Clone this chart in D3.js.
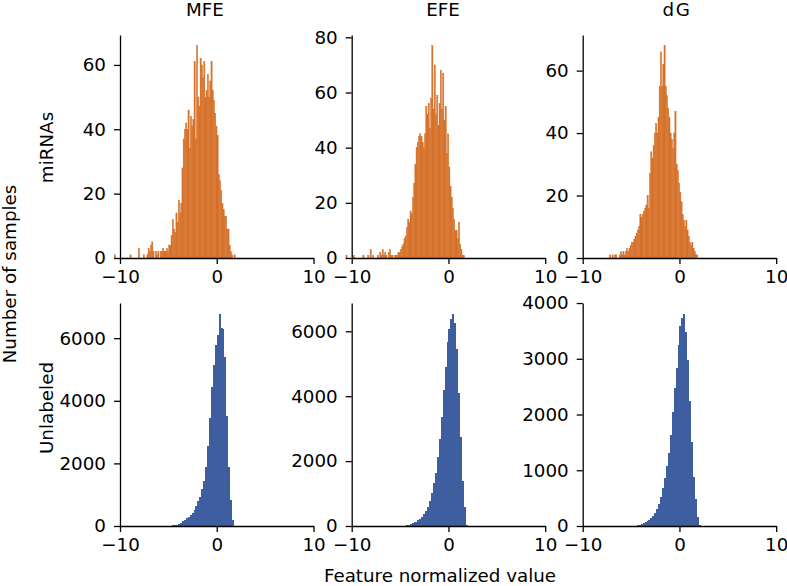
<!DOCTYPE html>
<html><head><meta charset="utf-8">
<script src="https://cdn.jsdelivr.net/npm/d3@7"></script>
<style>
html,body{margin:0;padding:0;background:#fff;}
svg text{font-family:"DejaVu Sans",sans-serif;}
</style></head><body>
<svg id="chart" width="787" height="586"></svg>
<script>
// ---------- data ----------
const columns = ["MFE", "EFE", "dG"];
const rowLabels = ["miRNAs", "Unlabeled"];
const xTicks = [-10, 0, 10];

// miRNA histograms: bins of width 0.125 starting at -10.6
const mirnaBinStart = -10.6, mirnaBinWidth = 0.125;
const mirnaMFE = [
  1,0,0,0,0,0,0,0,0,0,
  0,0,0,1,0,0,0,0,0,0,
  3,0,0,0,1,0,0,1,3,2,
  4,5,2,0,2,1,2,0,2,2,
  3,2,2,3,2,4,4,7,12,9,
  8,14,11,18,14,17,28,37,40,42,
  40,46,34,44,41,43,61,37,66,50,
  47,62,60,56,61,50,52,57,50,55,
  61,52,49,45,41,38,26,24,21,17,
  15,13,13,9,9,4,2,1,0,1
];
const mirnaEFE = [
  1,0,0,0,0,0,1,0,0,0,
  0,0,0,0,1,0,0,0,1,0,
  3,0,1,0,0,0,1,0,2,1,
  3,1,2,1,0,2,3,1,1,0,
  1,1,1,2,2,3,4,5,7,8,
  11,14,13,17,16,22,27,34,40,42,
  44,45,44,42,40,45,55,52,56,47,
  58,77,54,70,52,59,48,56,68,54,
  67,50,55,38,45,33,26,22,18,14,
  10,10,7,13,5,3,1,1,0,0
];
const mirnaDG = [
  0,0,0,0,0,0,0,0,0,0,
  0,0,0,0,0,0,0,0,0,0,
  0,0,0,0,0,0,0,1,0,1,
  0,1,1,0,0,1,2,1,2,1,
  2,3,2,3,4,5,5,6,7,8,
  9,10,14,13,14,15,16,17,20,16,
  27,34,32,36,40,43,40,45,55,66,
  55,62,68,55,52,48,45,40,38,35,
  40,47,30,28,24,21,18,14,12,10,
  12,9,7,5,4,5,3,2,1,1
];

// Unlabeled histograms: bins of width 0.2 starting at -5.0
const unlabBinStart = -5.0, unlabBinWidth = 0.2;
const unlabMFE = [10,15,20,30,45,70,110,160,185,245,300,360,430,520,650,810,940,1180,1450,1900,2550,3450,4450,5150,5780,6100,6785,6330,6300,5400,3500,1900,830,200,0];
const unlabEFE = [5,10,15,30,45,65,90,110,135,180,225,290,370,455,600,780,1010,1310,1620,2120,2690,3370,4185,4900,5680,6080,6380,6545,6250,5450,4100,2750,1400,600,20];
const unlabDG  = [3,5,8,12,18,30,50,65,85,107,145,180,230,300,390,525,690,860,1070,1310,1630,2050,2470,2830,3250,3580,3740,3810,3480,2980,2250,1500,880,480,160,10];

const mirnaYTicks = [[0,20,40,60],[0,20,40,60,80],[0,20,40,60]];
const unlabYTicks = [[0,2000,4000,6000],[0,2000,4000,6000],[0,1000,2000,3000,4000]];

const xLabel = "Feature normalized value";
const yLabel = "Number of samples";

// ---------- layout ----------
const svg = d3.select("#chart");
const colLeft = [120, 351.7, 582.7], panelW = 193.5;
const rowTop = [35, 303], panelH = 223;
const colors = ["#d6712a", "#3e5e9f"];
const seam = [0.45, 0];
const rendering = ["auto", "crispEdges"];
const titleX = [205, 443, 677];
const FS = 18.3;

const rows = [
  {series: [mirnaMFE, mirnaEFE, mirnaDG], start: mirnaBinStart, width: mirnaBinWidth, ticks: mirnaYTicks},
  {series: [unlabMFE, unlabEFE, unlabDG], start: unlabBinStart, width: unlabBinWidth, ticks: unlabYTicks}
];

rows.forEach((row, r) => {
  row.series.forEach((counts, c) => {
    const left = colLeft[c], top = rowTop[r];
    const x = d3.scaleLinear().domain([-10, 10]).range([left, left + panelW]);
    const y = d3.scaleLinear().domain([0, d3.max(counts) * 1.05]).range([top + panelH, top]);
    const g = svg.append("g").attr("shape-rendering", rendering[r]);
    const bins = counts.map((v, i) => ({x0: row.start + i * row.width, x1: row.start + (i + 1) * row.width, v}))
                       .filter(d => d.v > 0);
    g.selectAll("rect").data(bins).join("rect")
      .attr("x", d => x(d.x0))
      .attr("width", d => x(d.x1) - x(d.x0))
      .attr("y", d => y(d.v))
      .attr("height", d => y(0) - y(d.v))
      .attr("fill", colors[r])
      .attr("stroke", seam[r] > 0 ? colors[r] : "none")
      .attr("stroke-width", seam[r]);

    const xa = svg.append("g").attr("transform", `translate(0,${top + panelH})`)
      .call(d3.axisBottom(x).tickValues(xTicks).tickFormat(d3.format("d")).tickSize(6).tickPadding(6).tickSizeOuter(0));
    const ya = svg.append("g").attr("transform", `translate(${left},0)`)
      .call(d3.axisLeft(y).tickValues(row.ticks[c]).tickFormat(d3.format("d")).tickSize(6).tickPadding(8).tickSizeOuter(0));
    [xa, ya].forEach(a => {
      a.attr("font-size", FS).attr("font-family", "DejaVu Sans");
      a.selectAll("path.domain").attr("stroke", "#000").attr("stroke-width", 1.3);
      a.selectAll(".tick line").attr("stroke", "#000").attr("stroke-width", 1.3);
      a.selectAll(".tick text").attr("fill", "#000");
    });

    if (r === 0) {
      svg.append("text").attr("x", titleX[c]).attr("y", 16)
        .attr("text-anchor", "middle").attr("font-size", FS)
        .attr("letter-spacing", c === 2 ? 1.5 : 0)
        .text(columns[c]);
    }
  });
});

// row labels
const rowLabelY = [147.5, 408];
rowLabels.forEach((t, r) => {
  svg.append("text").attr("transform", `translate(53,${rowLabelY[r]}) rotate(-90)`)
    .attr("text-anchor", "middle").attr("font-size", FS).text(t);
});
svg.append("text").attr("transform", "translate(16,274) rotate(-90)")
  .attr("text-anchor", "middle").attr("font-size", FS).text(yLabel);
svg.append("text").attr("x", 440).attr("y", 582)
  .attr("text-anchor", "middle").attr("font-size", FS).text(xLabel);
</script>
</body></html>
